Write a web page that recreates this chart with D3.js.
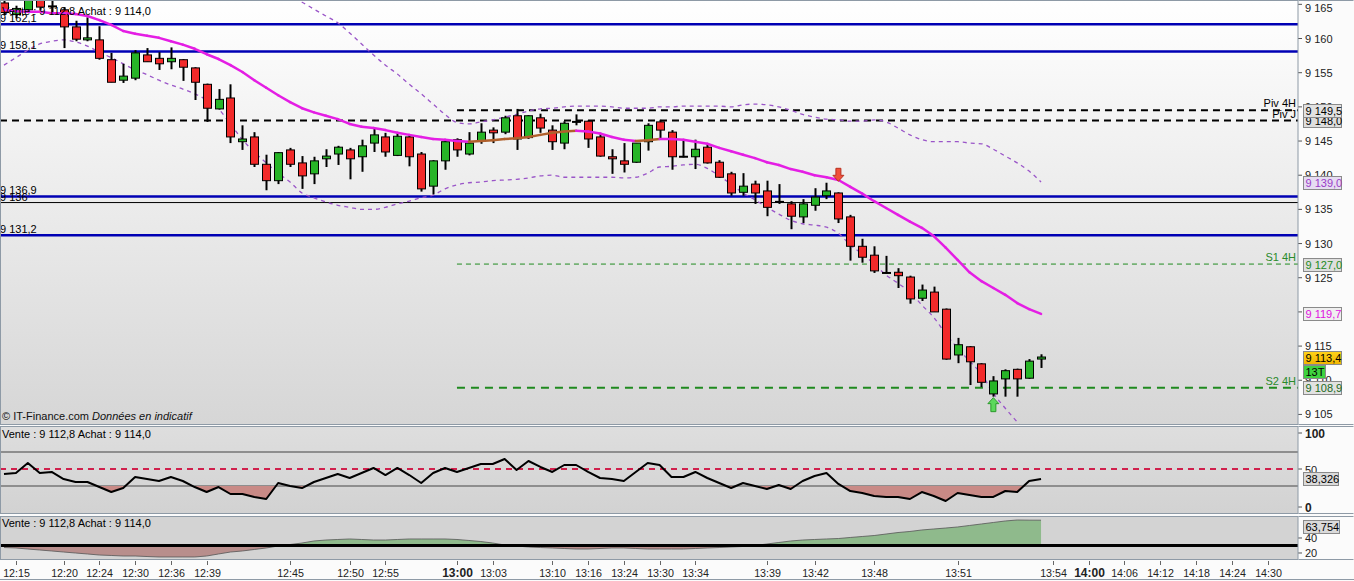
<!DOCTYPE html>
<html><head><meta charset="utf-8">
<script src="https://cdn.jsdelivr.net/npm/d3@7"></script>
<style>
html,body{margin:0;padding:0;background:#fff;overflow:hidden}
svg{display:block;font-family:"Liberation Sans",Arial,sans-serif}
</style></head>
<body><svg id="chart" width="1354" height="581"></svg>
<script>
// ---------------- DATA ----------------
const opens=[9165.2,9163.5,9164.2,9165.8,9164.8,9164.2,9161.7,9159.8,9159.8,9156.9,
9153.9,9154.2,9157.6,9157.1,9156.6,9156.9,9155.7,9153.3,9149.7,9151.3,
9144.9,9145.6,9141.6,9139.2,9143.7,9141.8,9140.2,9142.4,9143.1,9143.7,
9142.7,9144.7,9145.6,9142.9,9145.6,9143.1,9138.4,9142.1,9145.2,9143.1,
9145.0,9146.6,9146.3,9148.7,9145.5,9148.4,9146.6,9144.7,9147.9,9147.9,
9145.6,9142.7,9142.1,9141.9,9144.9,9147.8,9146.3,9142.8,9142.7,9144.1,
9141.9,9140.2,9137.5,9138.7,9137.7,9136.2,9135.8,9133.9,9135.6,9137.0,
9137.4,9133.9,9129.6,9128.3,9125.8,9125.8,9125.1,9122.0,9122.9,9120.4,
9113.7,9114.9,9112.4,9108.0,9110.2,9111.6,9110.3,9113.1];
const highs=[9165.6,9164.8,9166.0,9166.0,9165.8,9164.6,9162.6,9163.1,9161.8,9157.9,
9156.3,9158.3,9158.6,9158.0,9158.7,9157.0,9155.8,9153.4,9152.6,9153.3,
9147.3,9146.3,9143.0,9143.4,9144.0,9142.8,9142.7,9143.8,9144.3,9144.0,
9145.2,9146.9,9146.2,9146.2,9145.9,9143.4,9142.2,9145.0,9145.4,9146.3,
9147.6,9147.0,9148.7,9149.7,9148.8,9149.0,9147.3,9147.9,9148.9,9148.0,
9146.2,9143.8,9144.7,9144.7,9147.6,9148.1,9146.6,9145.2,9145.2,9144.7,
9142.2,9140.5,9140.3,9139.2,9139.2,9138.7,9136.2,9136.5,9138.1,9138.9,
9137.5,9134.2,9130.7,9129.6,9128.2,9126.4,9125.3,9124.0,9123.7,9120.5,
9116.2,9115.0,9112.5,9110.6,9111.6,9111.7,9113.1,9113.8];
const lows=[9163.4,9163.0,9164.0,9164.2,9163.7,9158.6,9159.6,9159.6,9156.9,9153.6,
9153.5,9153.9,9156.6,9155.4,9155.5,9153.8,9151.0,9147.8,9149.6,9144.7,
9143.7,9141.2,9137.8,9138.7,9141.2,9138.0,9138.7,9141.2,9141.5,9139.4,
9140.5,9143.4,9142.7,9142.8,9141.3,9137.6,9137.2,9140.8,9142.7,9142.9,
9144.6,9144.7,9146.0,9143.7,9145.3,9146.2,9143.7,9143.8,9147.3,9144.0,
9142.7,9140.2,9140.4,9141.8,9143.6,9145.2,9140.8,9142.6,9140.9,9141.7,
9139.6,9137.0,9137.0,9135.8,9134.0,9135.8,9132.1,9133.0,9134.8,9136.5,
9133.0,9127.5,9127.2,9125.7,9125.6,9123.5,9121.2,9121.6,9120.0,9113.0,
9112.5,9109.3,9109.0,9107.6,9107.6,9107.6,9110.2,9111.8];
const closes=[9163.8,9164.4,9165.8,9164.6,9164.7,9161.7,9159.9,9160.1,9157.1,9153.6,
9154.5,9157.9,9156.6,9156.3,9157.1,9155.8,9153.6,9149.8,9151.1,9145.6,
9145.3,9141.6,9139.2,9143.3,9141.6,9139.9,9142.1,9142.8,9144.1,9142.4,
9144.3,9145.9,9143.4,9145.7,9142.7,9138.0,9142.1,9144.9,9143.7,9144.7,
9146.3,9146.2,9148.4,9145.3,9148.7,9146.9,9144.9,9147.6,9147.8,9145.3,
9142.8,9142.4,9141.6,9144.7,9147.3,9146.6,9142.7,9142.7,9143.8,9141.8,
9139.7,9137.4,9138.4,9137.4,9135.3,9136.1,9134.0,9135.8,9136.8,9137.7,
9133.6,9129.6,9128.0,9126.0,9125.7,9125.3,9121.9,9123.2,9120.0,9113.1,
9115.2,9112.7,9109.7,9109.9,9111.4,9110.2,9112.8,9113.4];
const maValues=[9164.2,9164.0,9163.9,9163.9,9163.7,9163.7,9163.6,9163.3,9162.7,9162.0,
9161.1,9160.7,9160.4,9160.1,9159.6,9159.1,9158.5,9157.7,9157.0,9156.1,
9155.1,9153.9,9152.8,9151.7,9150.7,9149.8,9149.2,9148.7,9148.2,9147.5,
9147.1,9146.9,9146.6,9146.2,9145.9,9145.6,9145.3,9145.2,9145.0,9144.9,
9145.0,9145.1,9145.3,9145.4,9145.6,9145.9,9146.2,9146.4,9146.5,9146.4,
9146.1,9145.6,9145.2,9145.0,9145.1,9145.3,9145.3,9145.2,9144.9,9144.6,
9144.0,9143.5,9143.0,9142.5,9141.9,9141.5,9140.9,9140.5,9140.0,9139.7,
9139.3,9138.3,9137.3,9136.2,9135.2,9134.2,9133.2,9132.3,9131.1,9129.4,
9127.6,9125.8,9124.5,9123.5,9122.5,9121.3,9120.4,9119.7];
const bandUpper=[null,null,null,null,null,null,null,null,null,null,
null,null,null,null,null,null,null,null,null,null,
null,null,9168.0,9166.9,9166.1,9165.3,9164.3,9163.3,9162.3,9160.8,
9159.2,9157.6,9156.1,9154.8,9153.3,9151.9,9150.4,9148.9,9147.7,9147.5,
9147.8,9148.1,9148.5,9148.9,9149.4,9149.7,9149.8,9150.0,9150.1,9150.1,
9150.1,9150.0,9149.8,9149.8,9149.8,9150.0,9150.0,9150.1,9150.1,9150.1,
9150.1,9150.0,9150.3,9150.4,9150.3,9150.0,9149.5,9148.9,9148.5,9148.2,
9148.1,9147.9,9147.9,9148.1,9147.8,9146.9,9145.9,9145.2,9144.9,9144.9,
9144.9,9144.7,9144.6,9143.8,9142.8,9141.8,9140.6,9139.0];
const bandLower=[9156.1,9157.2,9158.3,9159.2,9159.6,9159.8,9159.5,9158.9,9158.0,9157.2,
9156.3,9155.4,9154.7,9153.9,9153.2,9152.6,9151.9,9151.0,9149.7,9147.5,
9145.2,9143.4,9141.8,9140.3,9139.0,9137.4,9136.7,9136.1,9135.6,9135.3,
9135.0,9135.0,9135.3,9135.8,9136.2,9136.7,9137.1,9138.0,9138.6,9138.9,
9139.0,9139.2,9139.3,9139.4,9139.6,9139.9,9140.0,9139.7,9139.7,9139.7,
9139.7,9139.7,9139.6,9139.7,9140.3,9141.2,9141.3,9141.5,9141.6,9141.0,
9139.9,9138.7,9137.4,9136.4,9135.3,9134.3,9133.4,9132.9,9132.7,9132.4,
9131.5,9129.8,9128.5,9127.0,9125.4,9124.2,9122.9,9121.0,9119.2,9116.8,
9114.7,9112.8,9110.9,9108.1,9105.9,9103.9,9101.9,9099.8];
const rsiValues=[44.1,45.3,57.1,45.3,46.5,38.2,34.7,34.7,28.8,22.9,
27.6,40.6,38.2,35.9,40.6,35.9,28.8,22.9,28.8,20.6,
20.6,17.1,14.7,33.5,30.0,27.6,34.7,39.4,44.1,39.4,
45.3,51.2,42.9,51.2,42.9,33.5,45.3,51.2,46.5,51.2,
55.9,55.9,61.8,48.8,59.4,52.4,46.5,54.7,54.7,46.5,
39.4,38.2,35.9,46.5,57.1,54.7,40.6,40.6,46.5,39.4,
33.5,27.6,33.5,30.0,26.5,31.2,26.5,35.9,41.8,45.3,
32.4,24.1,21.8,18.2,17.1,17.1,14.7,22.9,18.2,12.4,
21.8,19.4,17.1,17.1,24.1,22.9,35.9,38.326];
const oscValues=[27.3,26.7,25.3,24.0,22.7,21.3,20.0,18.7,17.3,16.7,
16.0,16.0,15.3,14.7,14.7,14.7,14.7,16.0,18.7,21.3,
22.7,24.7,26.7,29.3,31.3,33.3,36.0,37.3,38.0,38.7,
38.0,37.3,37.3,38.0,38.7,38.7,38.7,38.7,38.0,36.7,
35.3,33.3,30.7,29.3,28.0,27.3,26.7,26.0,25.3,25.3,
26.0,26.7,26.7,26.0,25.3,25.3,25.3,25.3,26.0,26.7,
27.3,28.0,28.7,30.0,32.0,34.0,36.0,37.3,38.0,38.7,
39.3,40.7,42.0,43.3,45.3,47.3,48.7,50.7,52.0,53.3,
54.7,56.7,58.7,60.7,62.7,64.0,63.8,63.754];
const timeTickIndex=[1,5,8,11,14,17,24,29,32,38,41,46,49,52,55,58,64,68,73,80,88,91,94,97,100,103,106];
const timeTickLabels=["12:15","12:20","12:24","12:30","12:36","12:39","12:45","12:50","12:55","13:00","13:03","13:10","13:16","13:24","13:30","13:34","13:39","13:42","13:48","13:51","13:54","14:00","14:06","14:12","14:18","14:24","14:30"];
const priceTicks=[9105,9110,9115,9120,9125,9130,9135,9140,9145,9150,9155,9160,9165];
const hiddenPriceTicks=[9120];
const rsiTicks=[100,50,0];
const oscTicks=[40,20];
const blueLevels=[9162.1,9158.1,9136.9,9131.2];
const blackLevel=9136.0;
const pivotValues=[9149.5,9148.0];
const pivotNames=["Piv 4H","Piv J"];
const pivotStart=[38,0];
const supportValues=[9127.0,9108.9];
const supportNames=["S1 4H","S2 4H"];
const supportStart=[38,38];
const signalDown=[70];
const signalUp=[83];
const headerText="Vente : 9 112,8 Achat : 9 114,0";
const tickCountLabel="13T";
const rsiLevels=[70,50,30];
const oscBase=30;

// ---------------- LAYOUT ----------------
const svg=d3.select("#chart");
const plotR=1298;
const M={top:0,bottom:424}, R={top:426,bottom:513}, O={top:516,bottom:559};
const x=d3.scaleLinear().domain([0,108]).range([4,4+108*11.92]);
const y=d3.scaleLinear().domain([9103.6,9165.635]).range([424,0]);
const yR=d3.scaleLinear().domain([0,100]).range([511.5,426.5]);
const yO=d3.scaleLinear().domain([12,69.33]).range([559,516]);
const idx=d3.range(opens.length);

function fmtNum(v,dec){
  let s=v.toFixed(dec).replace('.',',');
  return s.replace(/^(\d)(\d{3})/,'$1 $2');
}

const defs=svg.append("defs");
const gMain=defs.append("linearGradient").attr("id","gMain").attr("x1",0).attr("y1",0).attr("x2",0).attr("y2",1);
gMain.append("stop").attr("offset","0%").attr("stop-color","#ffffff");
gMain.append("stop").attr("offset","100%").attr("stop-color","#d6d6d6");
const gRsi=defs.append("linearGradient").attr("id","gRsi").attr("x1",0).attr("y1",0).attr("x2",0).attr("y2",1);
gRsi.append("stop").attr("offset","0%").attr("stop-color","#dedede");
gRsi.append("stop").attr("offset","100%").attr("stop-color","#d2d2d2");
const gYel=defs.append("linearGradient").attr("id","gYel").attr("x1",0).attr("y1",0).attr("x2",0).attr("y2",1);
gYel.append("stop").attr("offset","0%").attr("stop-color","#ffd21a");
gYel.append("stop").attr("offset","100%").attr("stop-color","#f0b400");
defs.append("clipPath").attr("id","clipMain").append("rect").attr("x",0).attr("y",M.top).attr("width",plotR).attr("height",M.bottom-M.top);
defs.append("clipPath").attr("id","clipRsiLow").append("rect").attr("x",0).attr("y",yR(30)).attr("width",plotR).attr("height",R.bottom-yR(30));
defs.append("clipPath").attr("id","clipOscUp").append("rect").attr("x",0).attr("y",O.top).attr("width",plotR).attr("height",yO(oscBase)-O.top);
defs.append("clipPath").attr("id","clipOscDn").append("rect").attr("x",0).attr("y",yO(oscBase)).attr("width",plotR).attr("height",O.bottom-yO(oscBase));

// backgrounds
svg.append("rect").attr("width",1354).attr("height",581).attr("fill","#fbfbfb");
svg.append("rect").attr("x",0).attr("y",M.top).attr("width",plotR).attr("height",M.bottom-M.top).attr("fill","url(#gMain)");
svg.append("rect").attr("x",0).attr("y",R.top).attr("width",plotR).attr("height",R.bottom-R.top).attr("fill","url(#gRsi)");
svg.append("rect").attr("x",0).attr("y",O.top).attr("width",plotR).attr("height",O.bottom-O.top).attr("fill","#d3d3d3");

// ---------------- MAIN PANEL ----------------
const main=svg.append("g").attr("clip-path","url(#clipMain)");
main.append("line").attr("x1",0).attr("x2",plotR).attr("y1",y(blackLevel)).attr("y2",y(blackLevel)).attr("stroke","#000").attr("stroke-width",1);
blueLevels.forEach(v=>{
  main.append("line").attr("x1",0).attr("x2",plotR).attr("y1",y(v)).attr("y2",y(v)).attr("stroke","#0000b4").attr("stroke-width",2.5);
});
pivotValues.forEach((v,k)=>{
  main.append("line").attr("x1",pivotStart[k]===0?0:x(pivotStart[k])).attr("x2",plotR).attr("y1",y(v)).attr("y2",y(v))
    .attr("stroke","#000").attr("stroke-width",2).attr("stroke-dasharray","7,5");
});
supportValues.forEach((v,k)=>{
  main.append("line").attr("x1",x(supportStart[k])).attr("x2",plotR).attr("y1",y(v)).attr("y2",y(v))
    .attr("stroke","#1f8a1f").attr("stroke-width",k===0?1:2).attr("stroke-dasharray",k===0?"5,4":"8,6");
});
const bandLine=d3.line().defined(d=>d[1]!==null).x(d=>x(d[0])).y(d=>y(d[1])).curve(d3.curveMonotoneX);
[bandUpper,bandLower].forEach(arr=>{
  main.append("path").attr("d",bandLine(idx.map(i=>[i,arr[i]]))).attr("fill","none")
    .attr("stroke","#9a55c8").attr("stroke-width",1.3).attr("stroke-dasharray","4,4");
});
const cg=main.append("g");
idx.forEach(i=>{
  const cx=Math.round(x(i))+0.5;
  cg.append("line").attr("x1",cx).attr("x2",cx).attr("y1",y(highs[i])).attr("y2",y(lows[i])).attr("stroke","#000").attr("stroke-width",2);
  const o=opens[i],c=closes[i];
  if(Math.abs(o-c)<0.15){
    cg.append("line").attr("x1",cx-4.5).attr("x2",cx+4.5).attr("y1",y(c)).attr("y2",y(c)).attr("stroke","#000").attr("stroke-width",2);
  } else {
    const top=y(Math.max(o,c)), bot=y(Math.min(o,c));
    cg.append("rect").attr("x",cx-4).attr("y",top).attr("width",8).attr("height",Math.max(bot-top,1.5))
      .attr("fill",c>o?"#27b427":"#f22a2a").attr("stroke","#000").attr("stroke-width",1);
  }
});
const ma=main.append("g");
for(let i=0;i<maValues.length-1;i++){
  ma.append("line").attr("x1",x(i)).attr("x2",x(i+1)).attr("y1",y(maValues[i])).attr("y2",y(maValues[i+1]))
    .attr("stroke",maValues[i+1]>maValues[i]?"#b0602c":"#e41ee4").attr("stroke-width",2.5).attr("stroke-linecap","round");
}
signalDown.forEach(i=>{
  const cx=x(i), tip=y(highs[i])-11;
  main.append("path").attr("d",`M${cx},${tip} L${cx-5.5},${tip-6} L${cx-2.5},${tip-6} L${cx-2.5},${tip-13} L${cx+2.5},${tip-13} L${cx+2.5},${tip-6} L${cx+5.5},${tip-6} Z`)
    .attr("fill","#f0503a").attr("stroke","#b83020").attr("stroke-width",1);
});
signalUp.forEach(i=>{
  const cx=x(i), tip=y(lows[i])+1;
  main.append("path").attr("d",`M${cx},${tip} L${cx-5.5},${tip+6} L${cx-2.5},${tip+6} L${cx-2.5},${tip+14} L${cx+2.5},${tip+14} L${cx+2.5},${tip+6} L${cx+5.5},${tip+6} Z`)
    .attr("fill","#5cd85c").attr("stroke","#2a9a2a").attr("stroke-width",1);
});
const tx=svg.append("g").attr("font-size","11px").attr("fill","#000");
blueLevels.forEach(v=>{ tx.append("text").attr("x",0).attr("y",y(v)-2.5).text(fmtNum(v,1)); });
tx.append("text").attr("x",0).attr("y",y(blackLevel)-2).text(fmtNum(blackLevel,0));
pivotNames.forEach((n,k)=>{ tx.append("text").attr("x",1296).attr("y",y(pivotValues[k])-3).attr("text-anchor","end").text(n); });
supportNames.forEach((n,k)=>{ tx.append("text").attr("x",1296).attr("y",y(supportValues[k])-3).attr("text-anchor","end").attr("fill","#2a8a2a").text(n); });
tx.append("text").attr("x",2).attr("y",15).text(headerText);
const wm=tx.append("text").attr("x",2).attr("y",420).attr("fill","#111");
wm.append("tspan").text("© IT-Finance.com  ");
wm.append("tspan").attr("font-style","italic").text("Données en indicatif");

// ---------------- RSI PANEL ----------------
const rs=svg.append("g");
rsiLevels.forEach(v=>{
  if(v===50) rs.append("line").attr("x1",0).attr("x2",plotR).attr("y1",yR(v)).attr("y2",yR(v)).attr("stroke","#d0204c").attr("stroke-width",2).attr("stroke-dasharray","6,5");
  else rs.append("line").attr("x1",0).attr("x2",plotR).attr("y1",yR(v)).attr("y2",yR(v)).attr("stroke","#8e8e8e").attr("stroke-width",2);
});
const rsiArea=d3.area().x(i=>x(i)).y0(yR(30)).y1(i=>yR(rsiValues[i]));
rs.append("path").attr("d",rsiArea(idx)).attr("fill","#c98a86").attr("clip-path","url(#clipRsiLow)");
rs.append("path").attr("d",d3.line().x(i=>x(i)).y(i=>yR(rsiValues[i]))(idx)).attr("fill","none").attr("stroke","#000").attr("stroke-width",2).attr("stroke-linejoin","round");
rs.append("text").attr("x",2).attr("y",438).attr("font-size","11px").text(headerText);

// ---------------- OSC PANEL ----------------
const os=svg.append("g");
const oscArea=d3.area().x(i=>x(i)).y0(yO(oscBase)).y1(i=>yO(oscValues[i]));
os.append("path").attr("d",oscArea(idx)).attr("fill","#8fba8c").attr("clip-path","url(#clipOscUp)");
os.append("path").attr("d",oscArea(idx)).attr("fill","#b88e8c").attr("clip-path","url(#clipOscDn)");
os.append("path").attr("d",d3.line().x(i=>x(i)).y(i=>yO(oscValues[i]))(idx)).attr("fill","none").attr("stroke","#555").attr("stroke-width",0.8);
os.append("line").attr("x1",0).attr("x2",plotR).attr("y1",yO(oscBase)).attr("y2",yO(oscBase)).attr("stroke","#000").attr("stroke-width",3);
os.append("text").attr("x",2).attr("y",527).attr("font-size","11px").text(headerText);

// ---------------- RIGHT AXES ----------------
const ax=svg.append("g").attr("font-size","11px").attr("fill","#222");
priceTicks.forEach(v=>{
  const yy=y(v);
  ax.append("line").attr("x1",plotR).attr("x2",plotR+4).attr("y1",yy).attr("y2",yy).attr("stroke","#555");
  if(!hiddenPriceTicks.includes(v)) ax.append("text").attr("x",1305).attr("y",Math.max(yy+4,12)).text(fmtNum(v,0));
});
rsiTicks.forEach(v=>{
  const yy=Math.min(Math.max(yR(v),R.top+7),R.bottom-6);
  ax.append("line").attr("x1",plotR).attr("x2",plotR+4).attr("y1",yy).attr("y2",yy).attr("stroke","#555");
  ax.append("text").attr("x",1305).attr("y",yy+4.5).attr("font-weight",v===50?"normal":"bold").attr("font-size",v===50?"11px":"12px").text(v);
});
oscTicks.forEach(v=>{
  const yy=yO(v);
  ax.append("line").attr("x1",plotR).attr("x2",plotR+4).attr("y1",yy).attr("y2",yy).attr("stroke","#555");
  ax.append("text").attr("x",1305).attr("y",yy+4).text(v);
});
function tag(yc,text,fill,color,w){
  const g=svg.append("g");
  g.append("rect").attr("x",1303.5).attr("y",Math.round(yc-6.5)+0.5).attr("width",w||38).attr("height",13).attr("fill",fill).attr("stroke","#8a8a8a");
  g.append("text").attr("x",1305.5).attr("y",Math.round(yc-6.5)+11).attr("font-size","11px").attr("fill",color).text(text);
}
tag(y(pivotValues[1]),fmtNum(pivotValues[1],1),"#dedede","#000");
tag(y(pivotValues[0]),fmtNum(pivotValues[0],1),"#e2e2e2","#000");
const lastIdx=opens.length-1;
tag(y(bandUpper[lastIdx]),fmtNum(bandUpper[lastIdx],1),"#e6dcf2","#9a3cc8");
tag(y(supportValues[0]),fmtNum(supportValues[0],1),"#dedede","#238a23");
tag(y(maValues[lastIdx]),fmtNum(maValues[lastIdx],1),"#efefef","#e010e0");
tag(y(closes[lastIdx]),fmtNum(closes[lastIdx],1),"url(#gYel)","#000");
tag(y(closes[lastIdx])+14,tickCountLabel,"#3fd23f","#000",22);
tag(y(supportValues[1]),fmtNum(supportValues[1],1),"#e2e2e2","#1b6a1b");
tag(yR(rsiValues[lastIdx]),fmtNum(rsiValues[lastIdx],3).replace(' ',''),"#dadada","#000",35);
tag(Math.max(yO(oscValues[lastIdx]),O.top+10),fmtNum(oscValues[lastIdx],3).replace(' ',''),"#dadada","#000",36);

// ---------------- TIME AXIS ----------------
const ta=svg.append("g");
timeTickIndex.forEach((t,k)=>{
  const xx=Math.round(x(t))+0.5;
  const bold=timeTickLabels[k].endsWith(":00");
  ta.append("line").attr("x1",xx).attr("x2",xx).attr("y1",561).attr("y2",565).attr("stroke","#666");
  ta.append("text").attr("x",xx).attr("y",577).attr("text-anchor","middle")
    .attr("font-size",bold?"12px":"10.7px").attr("font-weight",bold?"bold":"normal").attr("fill","#222").text(timeTickLabels[k]);
});

// ---------------- BORDERS ----------------
const bd=svg.append("g").attr("stroke","#8e9aa6").attr("stroke-width",1).attr("fill","none");
[[M.top,M.bottom],[R.top,R.bottom],[O.top,O.bottom]].forEach(([a,b])=>{
  bd.append("rect").attr("x",0.5).attr("y",a+0.5).attr("width",plotR-0.5).attr("height",b-a);
  bd.append("line").attr("x1",plotR+0.5).attr("x2",1353.5).attr("y1",a+0.5).attr("y2",a+0.5);
  bd.append("line").attr("x1",plotR+0.5).attr("x2",1353.5).attr("y1",b+0.5).attr("y2",b+0.5);
});
bd.append("line").attr("x1",0).attr("x2",1354).attr("y1",579.5).attr("y2",579.5);
</script></body></html>
